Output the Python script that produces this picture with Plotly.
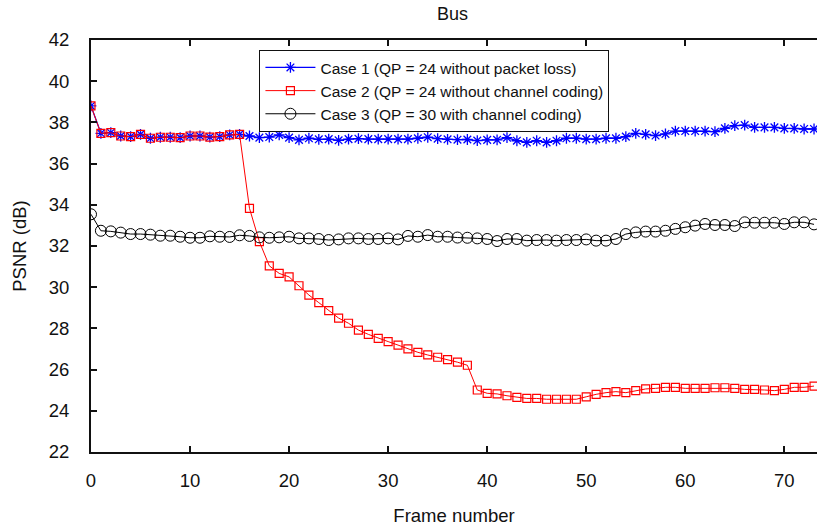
import plotly.graph_objects as go

frames = list(range(74))

case1 = [38.80, 37.47, 37.50, 37.34, 37.31, 37.42, 37.23, 37.28, 37.28, 37.26,
         37.34, 37.34, 37.29, 37.31, 37.39, 37.42, 37.34, 37.26, 37.29, 37.39,
         37.26, 37.15, 37.23, 37.18, 37.19, 37.13, 37.19, 37.21, 37.19, 37.19,
         37.19, 37.19, 37.19, 37.23, 37.28, 37.21, 37.18, 37.16, 37.17, 37.12,
         37.15, 37.15, 37.26, 37.11, 37.03, 37.11, 37.03, 37.11, 37.23, 37.23,
         37.19, 37.19, 37.23, 37.23, 37.31, 37.47, 37.42, 37.36, 37.44, 37.58,
         37.58, 37.58, 37.58, 37.55, 37.71, 37.84, 37.87, 37.76, 37.76, 37.76,
         37.71, 37.71, 37.68, 37.68]

case2 = [38.80, 37.47, 37.50, 37.34, 37.31, 37.42, 37.23, 37.28, 37.28, 37.26,
         37.34, 37.34, 37.29, 37.31, 37.39, 37.42, 33.83, 32.21, 31.04, 30.67,
         30.50, 30.07, 29.62, 29.25, 28.86, 28.50, 28.25, 27.92, 27.71, 27.52,
         27.36, 27.19, 27.01, 26.84, 26.71, 26.60, 26.48, 26.36, 26.21, 25.01,
         24.85, 24.82, 24.73, 24.65, 24.60, 24.60, 24.56, 24.56, 24.56, 24.56,
         24.68, 24.80, 24.88, 24.93, 24.88, 24.98, 25.06, 25.09, 25.14, 25.14,
         25.09, 25.09, 25.09, 25.12, 25.12, 25.09, 25.04, 25.04, 25.01, 24.98,
         25.04, 25.14, 25.14, 25.20]

case3 = [33.54, 32.74, 32.71, 32.65, 32.58, 32.58, 32.55, 32.50, 32.50, 32.45,
         32.40, 32.40, 32.47, 32.45, 32.44, 32.52, 32.49, 32.42, 32.40, 32.42,
         32.45, 32.37, 32.37, 32.34, 32.29, 32.32, 32.37, 32.37, 32.34, 32.34,
         32.37, 32.32, 32.49, 32.45, 32.53, 32.45, 32.45, 32.41, 32.40, 32.37,
         32.34, 32.24, 32.34, 32.34, 32.26, 32.29, 32.29, 32.26, 32.29, 32.29,
         32.32, 32.26, 32.26, 32.34, 32.58, 32.66, 32.70, 32.70, 32.74, 32.83,
         32.91, 32.99, 33.07, 33.02, 33.02, 32.97, 33.15, 33.13, 33.13, 33.13,
         33.07, 33.15, 33.15, 33.05]

names = ["Case 1 (QP = 24 without packet loss)",
         "Case 2 (QP = 24 without channel coding)",
         "Case 3 (QP = 30 with channel coding)"]

y_ticks = [22, 24, 26, 28, 30, 32, 34, 36, 38, 40, 42]
x_ticks = [0, 10, 20, 30, 40, 50, 60, 70]

FONT = "Liberation Sans, Arial, sans-serif"
INK = "#111111"

fig = go.Figure()
fig.add_trace(go.Scatter(
    x=frames, y=case1, name=names[0], mode="lines+markers",
    line=dict(color="#0000ff", width=1.3),
    marker=dict(symbol="asterisk-open", size=9, color="#0000ff",
                line=dict(color="#0000ff", width=1.3))))
fig.add_trace(go.Scatter(
    x=frames, y=case2, name=names[1], mode="lines+markers",
    line=dict(color="#ff0000", width=1),
    marker=dict(symbol="square-open", size=8, color="#ff0000",
                line=dict(color="#ff0000", width=1.2))))
fig.add_trace(go.Scatter(
    x=frames, y=case3, name=names[2], mode="lines+markers",
    line=dict(color="#000000", width=1),
    marker=dict(symbol="circle-open", size=11, color="#000000",
                line=dict(color="#000000", width=1))))

fig.update_layout(
    width=817, height=529, autosize=False,
    margin=dict(l=91, r=0, t=40, b=77, pad=0),
    paper_bgcolor="white", plot_bgcolor="white",
    font=dict(family=FONT, size=18, color=INK),
    showlegend=True,
    legend=dict(x=0.232, y=0.976, xanchor="left", yanchor="top",
                bordercolor=INK, borderwidth=1, bgcolor="white",
                font=dict(family=FONT, size=15.5, color=INK),
                tracegroupgap=0, itemwidth=50),
    annotations=[dict(text="Bus", x=0.4985, y=1.0 + 26 / 412,
                      xref="paper", yref="paper", xanchor="center", yanchor="middle",
                      showarrow=False, font=dict(family=FONT, size=18, color=INK))],
)

fig.update_xaxes(
    range=[0, 73.3], tickvals=x_ticks, ticktext=[str(v) for v in x_ticks],
    showline=True, linecolor=INK, linewidth=2, mirror="ticks",
    ticks="inside", ticklen=6, tickwidth=1.5, tickcolor=INK,
    showgrid=False, zeroline=False,
    tickfont=dict(family=FONT, size=18.5, color=INK),
    ticklabelstandoff=11,
    title=dict(text="Frame number", font=dict(family=FONT, size=18.5, color=INK), standoff=19),
)
fig.update_yaxes(
    range=[22, 42], tickvals=y_ticks, ticktext=[str(v) for v in y_ticks],
    showline=True, linecolor=INK, linewidth=2, mirror=False,
    ticks="inside", ticklen=6, tickwidth=1.5, tickcolor=INK,
    showgrid=False, zeroline=False,
    tickfont=dict(family=FONT, size=18.5, color=INK),
    ticklabelstandoff=16,
    title=dict(text="PSNR (dB)", font=dict(family=FONT, size=18.5, color=INK), standoff=17),
)

fig.write_html("out.html")
